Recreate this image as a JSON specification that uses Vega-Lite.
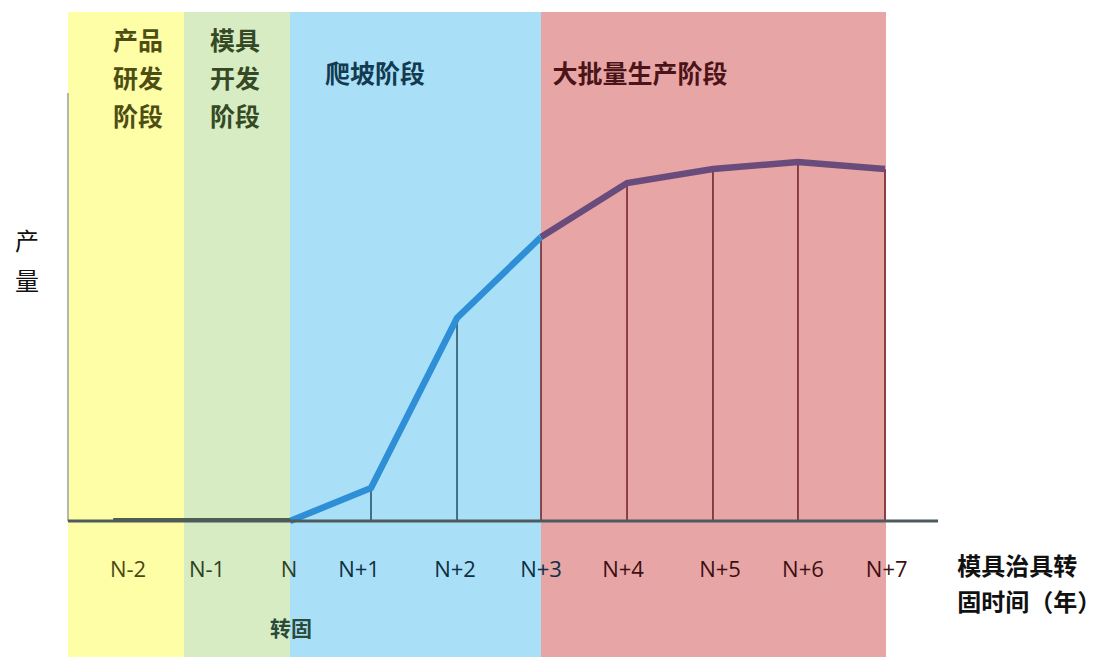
{
  "$schema": "https://vega.github.io/schema/vega-lite/v6.json",
  "width": 1104,
  "height": 657,
  "autosize": {"type": "none"},
  "padding": 0,
  "background": "white",
  "config": {"view": {"stroke": null}},
  "datasets": {
    "bands": [
      {"stage": "产品研发阶段", "start": -2.612, "end": -1.247, "top": 509, "bottom": -136},
      {"stage": "模具开发阶段", "start": -1.247, "end": 0, "top": 509, "bottom": -136},
      {"stage": "爬坡阶段", "start": 0, "end": 2.953, "top": 509, "bottom": -136},
      {"stage": "大批量生产阶段", "start": 2.953, "end": 7.012, "top": 509, "bottom": -136}
    ],
    "curve": [
      {"t": 0, "v": 0, "seg": "ramp"},
      {"t": 0.953, "v": 33, "seg": "ramp"},
      {"t": 1.965, "v": 203, "seg": "ramp"},
      {"t": 2.953, "v": 284, "seg": "ramp"},
      {"t": 2.953, "v": 284, "seg": "mass"},
      {"t": 3.965, "v": 338, "seg": "mass"},
      {"t": 4.976, "v": 352, "seg": "mass"},
      {"t": 5.976, "v": 359, "seg": "mass"},
      {"t": 7.0, "v": 352, "seg": "mass"}
    ],
    "drops": [
      {"t": 0.953, "v": 33, "base": 0, "zone": "ramp"},
      {"t": 1.965, "v": 203, "base": 0, "zone": "ramp"},
      {"t": 2.953, "v": 284, "base": 0, "zone": "mass"},
      {"t": 3.965, "v": 338, "base": 0, "zone": "mass"},
      {"t": 4.976, "v": 352, "base": 0, "zone": "mass"},
      {"t": 5.976, "v": 359, "base": 0, "zone": "mass"},
      {"t": 7.0, "v": 352, "base": 0, "zone": "mass"}
    ],
    "ticks": [
      {"label": "N-2", "t": -1.906, "v": -49, "zone": "dev"},
      {"label": "N-1", "t": -0.976, "v": -49, "zone": "mold"},
      {"label": "N", "t": -0.012, "v": -49, "zone": "mold"},
      {"label": "N+1", "t": 0.812, "v": -49, "zone": "ramp"},
      {"label": "N+2", "t": 1.941, "v": -49, "zone": "ramp"},
      {"label": "N+3", "t": 2.953, "v": -49, "zone": "ramp"},
      {"label": "N+4", "t": 3.918, "v": -49, "zone": "mass"},
      {"label": "N+5", "t": 5.059, "v": -49, "zone": "mass"},
      {"label": "N+6", "t": 6.035, "v": -49, "zone": "mass"},
      {"label": "N+7", "t": 7.02, "v": -49, "zone": "mass"}
    ],
    "stageLabels": [
      {"text": "产品\n研发\n阶段", "t": -1.788, "v": 479, "zone": "dev"},
      {"text": "模具\n开发\n阶段", "t": -0.647, "v": 479, "zone": "mold"},
      {"text": "爬坡阶段", "t": 1.0, "v": 446, "zone": "ramp"},
      {"text": "大批量生产阶段", "t": 4.118, "v": 446, "zone": "mass"}
    ]
  },
  "layer": [
    {
      "data": {"name": "bands"},
      "mark": {"type": "rect"},
      "encoding": {
        "x": {"field": "start", "type": "quantitative", "scale": {"domain": [-3.4118, 9.5765], "nice": false, "zero": false}, "axis": null},
        "x2": {"field": "end"},
        "y": {"field": "top", "type": "quantitative", "scale": {"domain": [-136, 521], "nice": false, "zero": false}, "axis": null},
        "y2": {"field": "bottom"},
        "color": {"field": "stage", "type": "nominal", "legend": null,
          "scale": {"domain": ["产品研发阶段", "模具开发阶段", "爬坡阶段", "大批量生产阶段"], "range": ["#fefea6", "#d7ecc3", "#a9e0f8", "#e8a5a6"]}}
      }
    },
    {
      "data": {"values": [{"t": -2.612, "v1": 0, "v2": 428}]},
      "mark": {"type": "rule", "color": "#b4b4b4", "strokeWidth": 2},
      "encoding": {
        "x": {"field": "t", "type": "quantitative"},
        "y": {"field": "v1", "type": "quantitative"},
        "y2": {"field": "v2"}
      }
    },
    {
      "data": {"name": "drops"},
      "mark": {"type": "rule", "strokeWidth": 1.5},
      "encoding": {
        "x": {"field": "t", "type": "quantitative"},
        "y": {"field": "base", "type": "quantitative"},
        "y2": {"field": "v"},
        "color": {"field": "zone", "type": "nominal", "legend": null,
          "scale": {"domain": ["ramp", "mass"], "range": ["#1f4d5e", "#6a1f26"]}}
      }
    },
    {
      "data": {"name": "curve"},
      "mark": {"type": "line", "strokeWidth": 6.5, "strokeJoin": "miter", "strokeCap": "butt"},
      "encoding": {
        "x": {"field": "t", "type": "quantitative"},
        "y": {"field": "v", "type": "quantitative"},
        "color": {"field": "seg", "type": "nominal", "legend": null,
          "scale": {"domain": ["ramp", "mass"], "range": ["#2f8fd6", "#6a4c7c"]}}
      }
    },
    {
      "data": {"values": [{"t1": -2.08, "t2": 0, "v": 1}]},
      "mark": {"type": "rule", "color": "#4f6048", "strokeWidth": 4},
      "encoding": {
        "x": {"field": "t1", "type": "quantitative"},
        "x2": {"field": "t2"},
        "y": {"field": "v", "type": "quantitative"}
      }
    },
    {
      "data": {"values": [{"t1": -2.612, "t2": 7.624, "v": 0}]},
      "mark": {"type": "rule", "color": "#4d5a5e", "strokeWidth": 3},
      "encoding": {
        "x": {"field": "t1", "type": "quantitative"},
        "x2": {"field": "t2"},
        "y": {"field": "v", "type": "quantitative"}
      }
    },
    {
      "data": {"name": "ticks"},
      "mark": {"type": "text", "font": "Open Sans", "fontSize": 22, "align": "center", "baseline": "middle"},
      "encoding": {
        "x": {"field": "t", "type": "quantitative"},
        "y": {"field": "v", "type": "quantitative"},
        "text": {"field": "label", "type": "nominal"},
        "color": {"field": "zone", "type": "nominal", "legend": null,
          "scale": {"domain": ["dev", "mold", "ramp", "mass"], "range": ["#4a4a12", "#2e3f22", "#0f2f42", "#3c0f12"]}}
      }
    },
    {
      "data": {"name": "stageLabels"},
      "mark": {"type": "text", "font": "Noto Sans CJK SC", "fontSize": 25, "fontWeight": "bold", "align": "center", "baseline": "middle", "lineBreak": "\n", "lineHeight": 38},
      "encoding": {
        "x": {"field": "t", "type": "quantitative"},
        "y": {"field": "v", "type": "quantitative"},
        "text": {"field": "text", "type": "nominal"},
        "color": {"field": "zone", "type": "nominal", "legend": null,
          "scale": {"domain": ["dev", "mold", "ramp", "mass"], "range": ["#4e4e14", "#354a24", "#123a50", "#4a1418"]}}
      }
    },
    {
      "data": {"values": [{"text": "产\n量", "t": -3.094, "v": 278}]},
      "mark": {"type": "text", "font": "Noto Sans CJK SC", "fontSize": 24, "align": "center", "baseline": "middle", "lineBreak": "\n", "lineHeight": 40, "color": "#111111"},
      "encoding": {
        "x": {"field": "t", "type": "quantitative"},
        "y": {"field": "v", "type": "quantitative"},
        "text": {"field": "text", "type": "nominal"}
      }
    },
    {
      "data": {"values": [{"text": "模具治具转\n固时间（年）", "t": 7.85, "v": -47}]},
      "mark": {"type": "text", "font": "Noto Sans CJK SC", "fontSize": 24, "fontWeight": "bold", "align": "left", "baseline": "middle", "lineBreak": "\n", "lineHeight": 36, "color": "#111111"},
      "encoding": {
        "x": {"field": "t", "type": "quantitative"},
        "y": {"field": "v", "type": "quantitative"},
        "text": {"field": "text", "type": "nominal"}
      }
    },
    {
      "data": {"values": [{"text": "转固", "t": 0.012, "v": -109}]},
      "mark": {"type": "text", "font": "Noto Sans CJK SC", "fontSize": 21, "fontWeight": "bold", "align": "center", "baseline": "middle", "color": "#2a4a3a"},
      "encoding": {
        "x": {"field": "t", "type": "quantitative"},
        "y": {"field": "v", "type": "quantitative"},
        "text": {"field": "text", "type": "nominal"}
      }
    }
  ],
  "resolve": {"scale": {"color": "independent"}}
}
